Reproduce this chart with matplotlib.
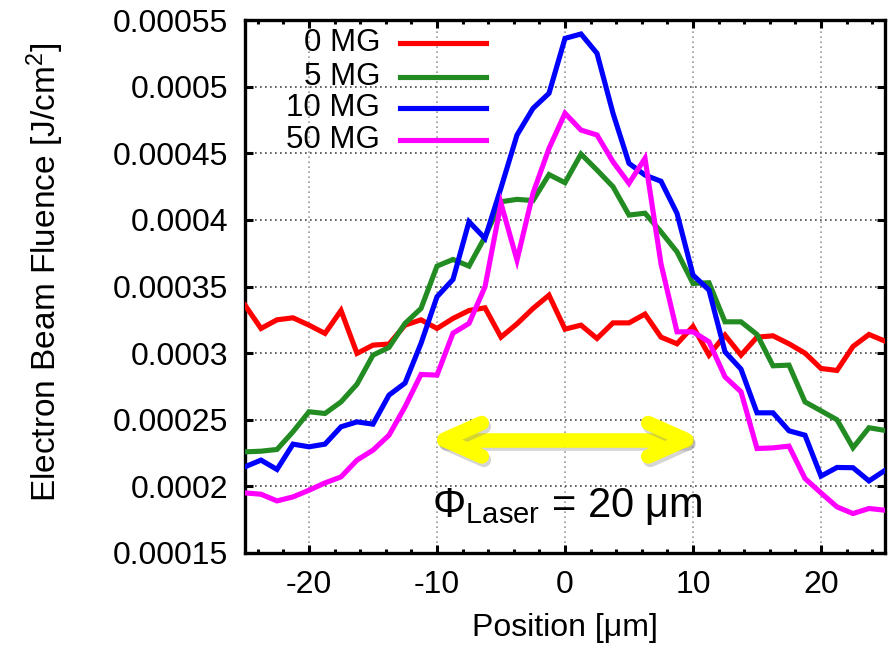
import numpy as np
import matplotlib
matplotlib.use("Agg")
import matplotlib.pyplot as plt
from matplotlib.lines import Line2D
import matplotlib.transforms as mtransforms
import matplotlib.patheffects as pe

plt.rcParams["font.family"] = ["Liberation Sans", "DejaVu Sans"]
plt.rcParams["mathtext.fontset"] = "custom"
plt.rcParams["mathtext.rm"] = "Liberation Sans"
plt.rcParams["mathtext.it"] = "Liberation Sans:italic"

# Sample positions [um]
position = np.linspace(-25, 25, 41)

# Electron beam fluence [1e-4 J/cm^2] for each magnetic field strength
fluence_0MG = [3.36, 3.185, 3.25, 3.265, 3.21, 3.148, 3.32, 2.998, 3.06, 3.068,
               3.21, 3.25, 3.185, 3.26, 3.32, 3.34, 3.12, 3.22, 3.335, 3.435,
               3.18, 3.21, 3.11, 3.227, 3.227, 3.293, 3.12, 3.07, 3.20, 2.985,
               3.135, 2.985, 3.12, 3.13, 3.07, 3.0, 2.885, 2.87, 3.05, 3.14, 3.09]
fluence_5MG = [2.259, 2.264, 2.277, 2.41, 2.56, 2.547, 2.634, 2.767, 2.985, 3.043,
               3.223, 3.335, 3.653, 3.703, 3.653, 3.873, 4.136, 4.154, 4.145, 4.34,
               4.279, 4.494, 4.374, 4.249, 4.036, 4.05, 3.91, 3.76, 3.523, 3.528,
               3.235, 3.235, 3.14, 2.905, 2.91, 2.634, 2.567, 2.50, 2.29, 2.44, 2.42]
fluence_10MG = [2.147, 2.197, 2.127, 2.317, 2.297, 2.317, 2.447, 2.484, 2.467, 2.685,
                2.775, 3.073, 3.423, 3.553, 3.986, 3.861, 4.24, 4.637, 4.837, 4.95,
                5.362, 5.395, 5.25, 4.80, 4.424, 4.336, 4.29, 4.049, 3.586, 3.473,
                3.01, 2.88, 2.552, 2.552, 2.417, 2.384, 2.077, 2.142, 2.14, 2.041, 2.12]
fluence_50MG = [1.951, 1.941, 1.891, 1.921, 1.971, 2.026, 2.071, 2.197, 2.272, 2.384,
                2.597, 2.84, 2.835, 3.15, 3.223, 3.498, 4.124, 3.698, 4.2, 4.536,
                4.80, 4.674, 4.637, 4.436, 4.274, 4.462, 3.67, 3.16, 3.16, 3.085,
                2.822, 2.71, 2.284, 2.289, 2.302, 2.059, 1.951, 1.846, 1.796, 1.834, 1.821]

series_labels = ["0 MG", "5 MG", "10 MG", "50 MG"]
series_colors = ["#ff0000", "#228b22", "#0000ff", "#ff00ff"]
series_values = [fluence_0MG, fluence_5MG, fluence_10MG, fluence_50MG]

y_ticks = [0.00015, 0.0002, 0.00025, 0.0003, 0.00035, 0.0004, 0.00045, 0.0005, 0.00055]
y_tick_labels = ["0.00015", "0.0002", "0.00025", "0.0003", "0.00035",
                 "0.0004", "0.00045", "0.0005", "0.00055"]
x_ticks = [-20, -10, 0, 10, 20]
x_tick_labels = ["-20", "-10", "0", "10", "20"]

laser_diameter = 20.0
arrow_level = 0.000235

fig = plt.figure(figsize=(8.9, 6.49), dpi=100)
ax = fig.add_axes([245 / 890, 96 / 649, 640 / 890, 533 / 649])

for vals, col in zip(series_values, series_colors):
    ax.plot(position, np.asarray(vals) * 1e-4, color=col, lw=3.7,
            solid_joinstyle="miter", zorder=3)

ax.set_xlim(-25, 25)
ax.set_ylim(0.00015, 0.00055)
ax.set_xticks(x_ticks)
ax.set_xticklabels(x_tick_labels)
ax.set_xticks(np.arange(-24, 25, 2), minor=True)
ax.set_yticks(y_ticks)
ax.set_yticklabels(y_tick_labels)

ax.tick_params(which="both", direction="in", top=True, right=True, width=2.2,
               labelsize=23)
ax.tick_params(which="major", length=6)
ax.tick_params(which="minor", length=3)
ax.tick_params(axis="y", pad=12)
ax.tick_params(axis="x", pad=12)
for sp in ax.spines.values():
    sp.set_linewidth(2.4)

ax.grid(True, axis="x", which="major", linestyle=(0, (1, 2)), color="#999999", lw=1.2)
ax.grid(True, axis="y", which="major", linestyle=(0, (1, 2)), color="#444444", lw=1.2)
ax.set_axisbelow(True)

ax.set_xlabel("Position [μm]", fontsize=23)
ax.xaxis.set_label_coords(0.5, -0.112)
ax.set_ylabel("Electron Beam Fluence [J/cm$^2$]", fontsize=24)
ax.yaxis.set_label_coords(-0.28, 0.527)

# Key: right-aligned labels followed by line samples
key_rows = [0.956, 0.893, 0.834, 0.775]
for lab, col, yk in zip(series_labels, series_colors, key_rows):
    ax.text(0.211, yk, lab, transform=ax.transAxes, ha="right", va="center",
            fontsize=22.5)
    ax.add_line(Line2D([0.242, 0.377], [yk, yk], transform=ax.transAxes,
                       color=col, lw=3.7, zorder=4))

# Laser spot size marker: thick double-headed arrow with a soft drop shadow
arrow_lw = 10.5
arrow_kw = dict(color="#ffff00", lw=arrow_lw, solid_capstyle="round",
                solid_joinstyle="round", zorder=5,
                path_effects=[pe.SimpleLineShadow(offset=(1.5, -2.5),
                                                  shadow_color="#888888", alpha=0.35),
                              pe.Normal()])
half = laser_diameter / 2
# pull the stroke centre in by half a line width so the rounded tips end at +/- half
x0_px = ax.transData.transform((0.0, arrow_level))[0]
x1_px = ax.transData.transform((1.0, arrow_level))[0]
inset = (arrow_lw / 2) * fig.dpi / 72 / (x1_px - x0_px)
head_len, head_half = 27, 12  # chevron size [pt]
tip = half - inset
ax.add_line(Line2D([-tip, tip], [arrow_level, arrow_level], **arrow_kw))
pts_to_px = mtransforms.Affine2D().scale(1 / 72) + fig.dpi_scale_trans
for xt, sgn in ((-tip, 1), (tip, -1)):
    anchor = mtransforms.ScaledTranslation(xt, arrow_level, ax.transData)
    ax.add_line(Line2D([sgn * head_len, 0, sgn * head_len],
                       [head_half, 0, -head_half],
                       transform=pts_to_px + anchor, **arrow_kw))

ax.text(-10.4, 0.0001769, r"$\mathrm{\Phi_{Laser}}$ = 20 μm", fontsize=30,
        ha="left", va="baseline", zorder=6)

fig.savefig("out.png", dpi=100)
